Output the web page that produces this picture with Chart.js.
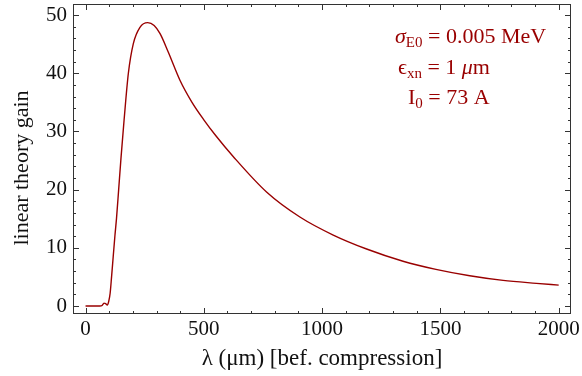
<!DOCTYPE html>
<html>
<head>
<meta charset="utf-8">
<script src="https://cdn.jsdelivr.net/npm/chart.js@4.4.1/dist/chart.umd.min.js"></script>
<style>
  html, body { margin: 0; padding: 0; background: #fff; }
  #wrap { width: 582px; height: 376px; }
</style>
</head>
<body>
<div id="wrap"><canvas id="c"></canvas></div>
<script>
// wavelength before compression (um) and gain
const lambdaUm = [0, 60, 70, 78, 85, 92, 98, 104, 110, 117, 124, 131, 140, 150, 163, 181, 202, 230, 263, 290, 315, 350, 399, 450, 500, 550, 624, 765, 906, 1047, 1188, 1342, 1481, 1624, 1765, 1906, 2000];
const gain = [0, 0, 0.1, 0.5, 0.4, 0.15, 0.8, 2.2, 5, 8.5, 12, 15.1, 20, 25.5, 32, 40, 45.1, 47.9, 48.7, 48.2, 46.8, 43.6, 38.8, 35.0, 32.0, 29.3, 25.7, 19.6, 15.3, 12.2, 9.8, 7.7, 6.3, 5.2, 4.4, 3.9, 3.6];

const xTickValues = [0, 500, 1000, 1500, 2000];
const yTickValues = [0, 10, 20, 30, 40, 50];
const xMinorStep = 100;
const yMinorStep = 2;

const RED = "#990000";
const SERIF = "'Liberation Serif', 'DejaVu Serif', serif";
const yTitle = "linear theory gain";

// parameter box: each line is a list of [text, style] runs
const noteLines = [
  [["σ", "it"], ["E0", "sub"], [" = 0.005 MeV", ""]],
  [["ϵ", ""], ["xn", "sub"], [" = 1 ", ""], ["μ", "it"], ["m", ""]],
  [["I", ""], ["0", "sub"], [" = 73 A", ""]],
];

const framePlugin = {
  id: "frame",
  afterDatasetsDraw(chart) {
    const { ctx, chartArea: a, scales: { x, y } } = chart;
    ctx.save();
    ctx.strokeStyle = "#333";
    ctx.lineWidth = 1;
    ctx.strokeRect(a.left + 0.5, a.top + 0.5, a.right - a.left - 1, a.bottom - a.top - 1);
    ctx.beginPath();
    for (let v = 0; v <= 2000; v += xMinorStep) {
      const px = Math.round(x.getPixelForValue(v)) + 0.5;
      const len = xTickValues.includes(v) ? 6 : 3;
      ctx.moveTo(px, a.bottom); ctx.lineTo(px, a.bottom - len);
      ctx.moveTo(px, a.top); ctx.lineTo(px, a.top + len);
    }
    for (let v = 0; v <= 50; v += yMinorStep) {
      const py = Math.round(y.getPixelForValue(v)) + 0.5;
      const len = yTickValues.includes(v) ? 6 : 3;
      ctx.moveTo(a.left, py); ctx.lineTo(a.left + len, py);
      ctx.moveTo(a.right, py); ctx.lineTo(a.right - len, py);
    }
    ctx.stroke();

    // y axis title, sits a little below the plot centre like the original
    ctx.save();
    ctx.translate(22, 168);
    ctx.rotate(-Math.PI / 2);
    ctx.fillStyle = "#111";
    ctx.font = "22px " + SERIF;
    ctx.textAlign = "center";
    ctx.textBaseline = "middle";
    ctx.fillText(yTitle, 0, 0);
    ctx.restore();

    // annotation
    ctx.fillStyle = RED;
    ctx.textBaseline = "alphabetic";
    const starts = [[395, 43], [398, 74], [408, 104]];
    noteLines.forEach((line, i) => {
      let [cx, cy] = starts[i];
      line.forEach(([t, s]) => {
        if (s === "sub") {
          ctx.font = "15px " + SERIF;
          ctx.fillText(t, cx, cy + 4);
        } else {
          ctx.font = (s === "it" ? "italic " : "") + "22px " + SERIF;
          ctx.fillText(t, cx, cy);
        }
        cx += ctx.measureText(t).width;
      });
    });
    ctx.restore();
  },
};

new Chart(document.getElementById("c"), {
  type: "line",
  data: {
    datasets: [{
      data: lambdaUm.map((l, i) => ({ x: l, y: gain[i] })),
      borderColor: RED,
      borderWidth: 1.4,
      pointRadius: 0,
      fill: false,
      cubicInterpolationMode: "monotone",
    }],
  },
  options: {
    responsive: true,
    maintainAspectRatio: false,
    animation: false,
    layout: { padding: { left: 0, right: 11, top: 4, bottom: 0 } },
    plugins: { legend: { display: false }, tooltip: { enabled: false } },
    scales: {
      x: {
        type: "linear",
        min: -53,
        max: 2052,
        afterBuildTicks: (s) => { s.ticks = xTickValues.map((v) => ({ value: v })); },
        afterFit: (s) => { s.height = 62; s.paddingLeft = 0; s.paddingRight = 0; },
        grid: { display: false, drawTicks: false },
        border: { display: false },
        ticks: {
          color: "#111", padding: 3, maxRotation: 0,
          font: { family: SERIF, size: 21 },
          callback: (v) => String(v),
        },
        title: {
          display: true,
          text: "λ (μm) [bef. compression]",
          color: "#111",
          font: { family: SERIF, size: 23 },
          padding: { top: 0, bottom: 3 },
        },
      },
      y: {
        min: -1.37,
        max: 51.9,
        afterBuildTicks: (s) => { s.ticks = yTickValues.map((v) => ({ value: v })); },
        afterFit: (s) => { s.width = 73; s.paddingTop = 0; s.paddingBottom = 0; },
        grid: { display: false, drawTicks: false },
        border: { display: false },
        ticks: {
          color: "#111", padding: 6,
          font: { family: SERIF, size: 21 },
          callback: (v) => String(v),
        },
      },
    },
  },
  plugins: [framePlugin],
});
</script>
</body>
</html>
